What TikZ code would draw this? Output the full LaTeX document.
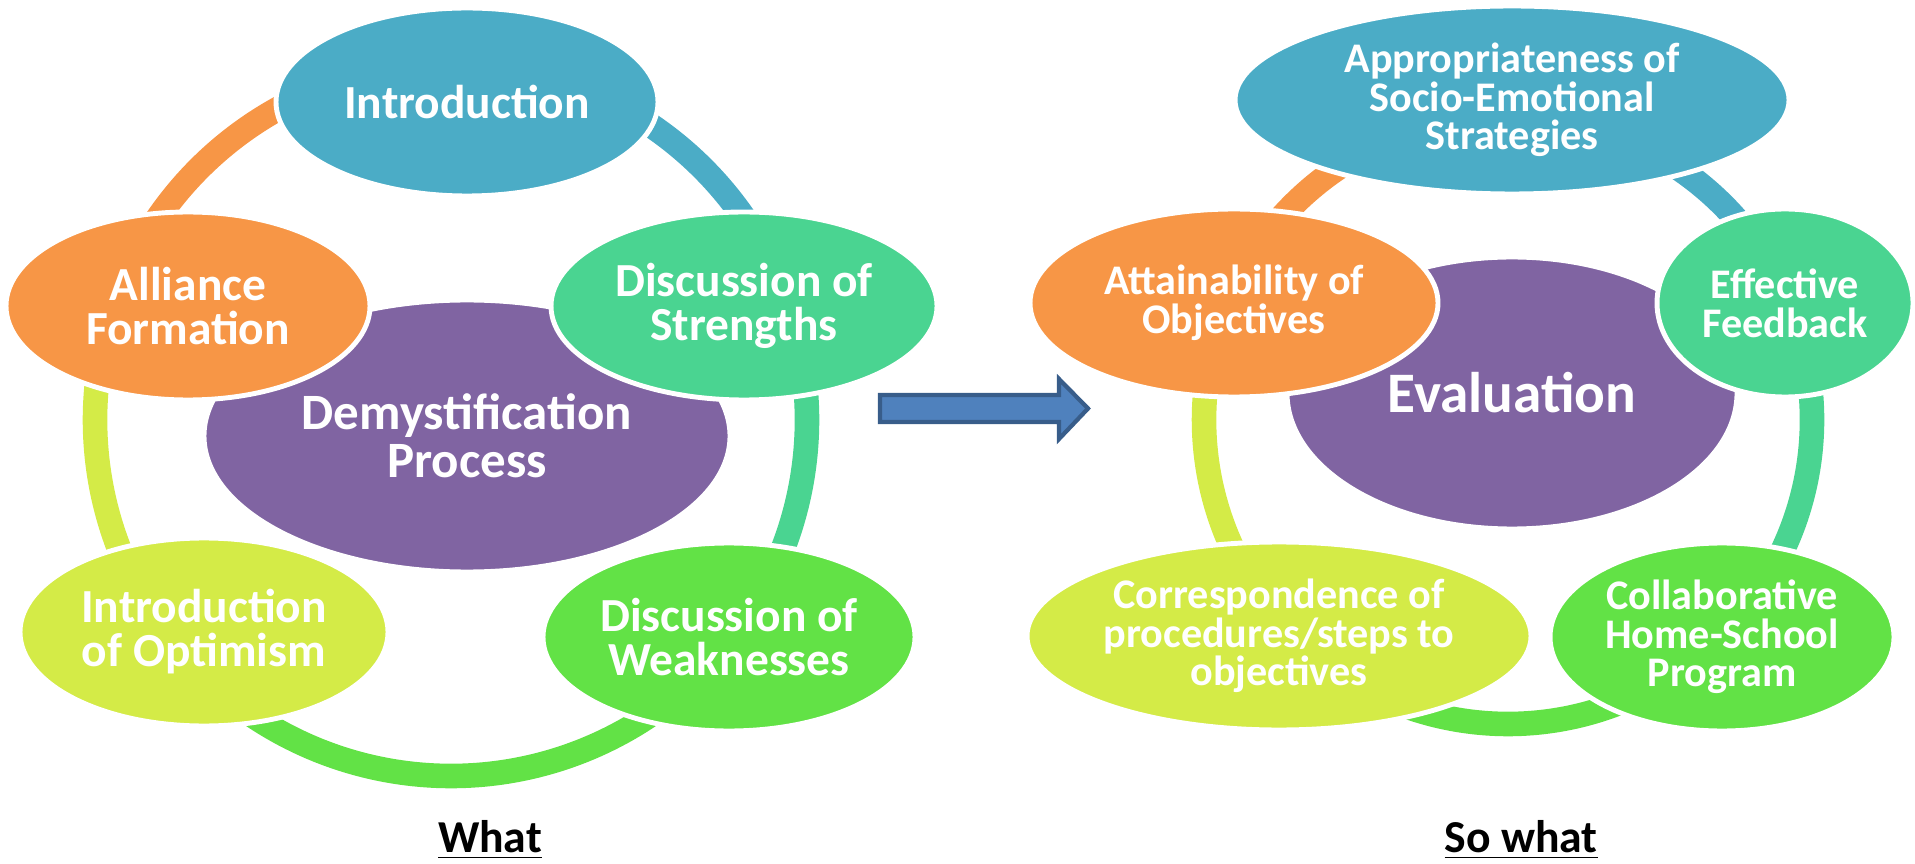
\documentclass[tikz,border=0pt]{standalone}
\usepackage{fontspec}
\setmainfont{Carlito}
\usetikzlibrary{shapes.geometric,calc,backgrounds}

\definecolor{cBlue}{HTML}{4BACC6}
\definecolor{cTeal}{HTML}{4AD491}
\definecolor{cGreen}{HTML}{62E246}
\definecolor{cLime}{HTML}{D4EB47}
\definecolor{cOrange}{HTML}{F79646}
\definecolor{cPurple}{HTML}{8064A2}
\definecolor{arrowFill}{HTML}{4F81BD}
\definecolor{arrowLine}{HTML}{385D8A}

\tikzset{
    bubble/.style={ellipse, draw=white, line width=1.4pt, inner sep=0pt, text=white, align=center},
    outerL/.style={bubble, minimum height=1.88cm, font=\bfseries\fontsize{13.5}{12.5}\selectfont},
    outerR/.style={bubble, minimum height=1.88cm, font=\bfseries\fontsize{12}{11}\selectfont},
    ring/.style={line width=7pt},
    caption/.style={anchor=base, font=\bfseries\fontsize{13}{15}\selectfont},
}

% clockwise piece of a ring: colour, hub, radius, from node, to node
\newcommand{\ringarc}[5]{%
    \draw[ring, #1] let \p1=($(#4.center)-(#2)$), \p2=($(#5.center)-(#2)$),
        \n1={atan2(\y1,\x1)}, \n2={\n1-mod(\n1-atan2(\y2,\x2)+720,360)} in
        ($(#2)+(\n1:#3)$) arc[start angle=\n1, end angle=\n2, radius=#3];}

\begin{document}
\begin{tikzpicture}
    \useasboundingbox (0,0) rectangle (19.15,8.63);
    \coordinate (hubL) at (4.51,4.43);
    \coordinate (hubR) at (15.08,4.43);

    % what
    \node[bubble, fill=cPurple, minimum width=5.26cm, minimum height=2.72cm,
        font=\bfseries\fontsize{14.5}{13.8}\selectfont] (demyst) at (4.67,4.27) {Demystification\\Process};
    \node[outerL, fill=cBlue, minimum width=3.82cm] (intro) at (4.67,7.61) {Introduction};
    \node[outerL, fill=cTeal, minimum width=3.86cm] (strengths) at (7.44,5.57) {Discussion of\\Strengths};
    \node[outerL, fill=cGreen, minimum width=3.72cm] (weaknesses) at (7.29,2.26) {Discussion of\\Weaknesses};
    \node[outerL, fill=cLime, minimum width=3.68cm] (optimism) at (2.04,2.31) {Introduction\\of Optimism};
    \node[outerL, fill=cOrange, minimum width=3.64cm] (alliance) at (1.88,5.57) {Alliance\\Formation};

    % so what
    \node[bubble, fill=cPurple, minimum width=4.50cm, minimum height=2.72cm,
        font=\bfseries\fontsize{16.3}{18}\selectfont] (evaluation) at (15.12,4.70) {Evaluation};
    \node[outerR, fill=cBlue, minimum width=5.54cm] (approp) at (15.12,7.63) {Appropriateness of\\Socio-Emotional\\Strategies};
    \node[outerR, fill=cTeal, minimum width=2.56cm] (feedback) at (17.85,5.60) {Effective\\Feedback};
    \node[outerR, fill=cGreen, minimum width=3.44cm] (collab) at (17.22,2.26) {Collaborative\\Home-School\\Program};
    \node[outerR, fill=cLime, minimum width=5.04cm] (correspond) at (12.79,2.27) {Correspondence of\\procedures/steps to\\objectives};
    \node[outerR, fill=cOrange, minimum width=4.08cm] (attain) at (12.34,5.60) {Attainability of\\Objectives};

    \begin{pgfonlayer}{background}
        \ringarc{cBlue}{hubL}{3.56cm}{intro}{strengths}
        \ringarc{cTeal}{hubL}{3.56cm}{strengths}{weaknesses}
        \ringarc{cGreen}{hubL}{3.56cm}{weaknesses}{optimism}
        \ringarc{cLime}{hubL}{3.56cm}{optimism}{alliance}
        \ringarc{cOrange}{hubL}{3.56cm}{alliance}{intro}
        \ringarc{cBlue}{hubR}{3.04cm}{approp}{feedback}
        \ringarc{cTeal}{hubR}{3.04cm}{feedback}{collab}
        \ringarc{cGreen}{hubR}{3.04cm}{collab}{correspond}
        \ringarc{cLime}{hubR}{3.04cm}{correspond}{attain}
        \ringarc{cOrange}{hubR}{3.04cm}{attain}{approp}
    \end{pgfonlayer}

    % block arrow between the two cycles
    \draw[arrowLine, fill=arrowFill, line width=1.2pt] (8.80,4.68) -- (10.59,4.68) -- (10.59,4.84)
        -- (10.88,4.545) -- (10.59,4.24) -- (10.59,4.41) -- (8.80,4.41) -- cycle;

    \node[caption] (what) at (4.90,0.11) {\underline{What}};
    \node[caption] (sowhat) at (15.21,0.11) {\underline{So what}};
\end{tikzpicture}
\end{document}
